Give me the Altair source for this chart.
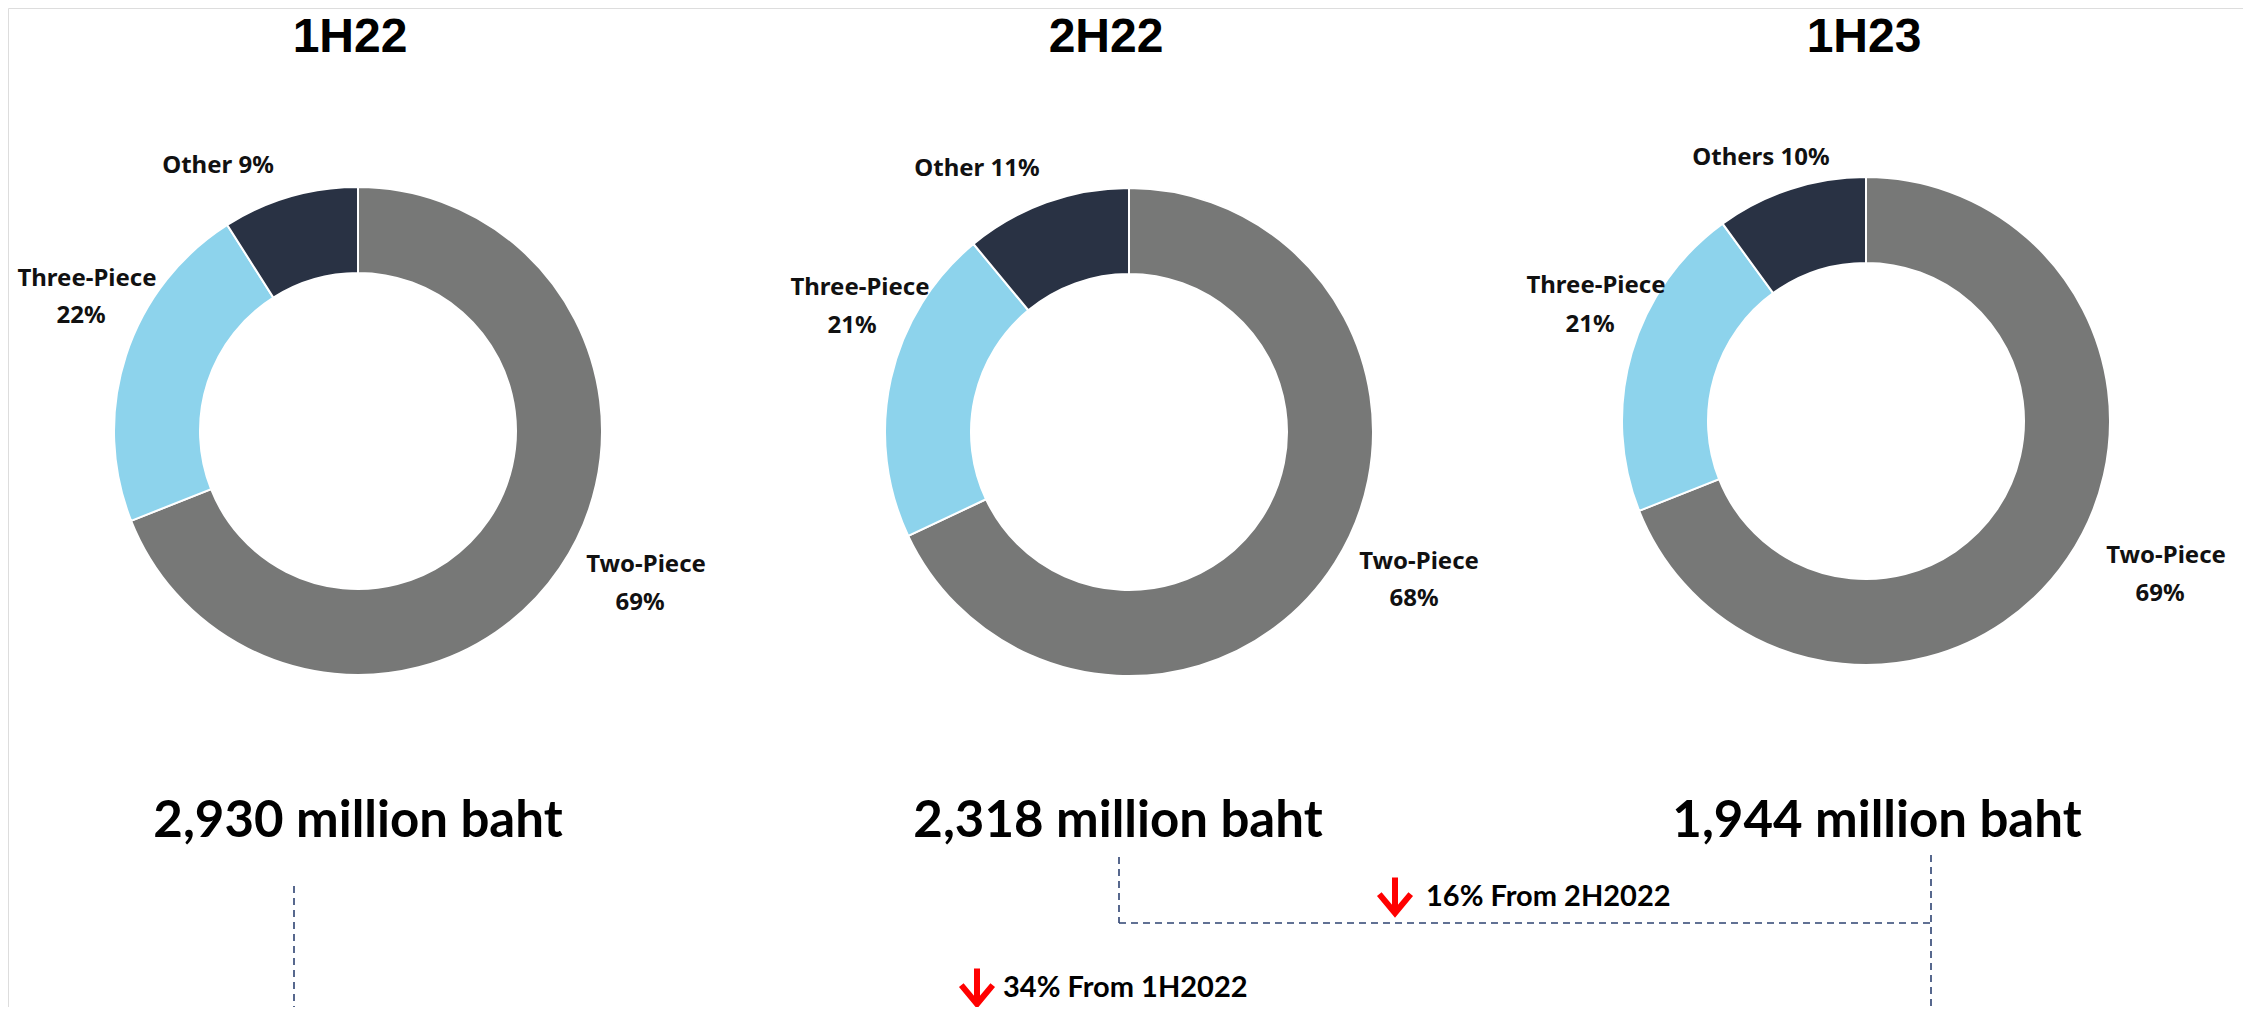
import altair as alt
import pandas as pd

# ---------------- data ----------------
periods = ["1H22", "2H22", "1H23"]
segments = ["Two-Piece", "Three-Piece", "Other"]
share_1h22 = [69, 22, 9]
share_2h22 = [68, 21, 11]
share_1h23 = [69, 21, 10]
other_names = ["Other", "Other", "Others"]
totals = ["2,930", "2,318", "1,944"]
change_texts = ["16% From 2H2022", "34% From 1H2022"]

# ---------------- layout (page px, minus 8px margin) ----------------
OFF = 8
centers = [(358, 431), (1129, 432), (1866, 421)]
R_OUT, R_IN = 244, 158
title_pos = [(350, 52), (1106, 52), (1864, 52)]
total_pos = [(358, 837), (1118, 837), (1877, 837)]
# per donut: [Two-Piece name, Two-Piece pct, Three-Piece name, Three-Piece pct, Other]
label_pos = [
    [(646, 572), (640, 610), (87, 286), (81, 323), (218, 173)],
    [(1419, 569), (1414, 606), (860, 295), (852, 333), (977, 176)],
    [(2166, 563), (2160, 601), (1596, 293), (1590, 332), (1761, 165)],
]
change_pos = [(1426, 906), (1003, 997)]
arrow_pos = [(1395, 896), (977, 987)]
dash_lines = [
    (294, 886, 294, 1015),
    (1119, 857, 1119, 923),
    (1119, 923, 1931, 923),
    (1931, 855, 1931, 1015),
]

colors = ["#777877", "#8DD3EC", "#293244"]
W, H = 2235, 999

shares = [share_1h22, share_2h22, share_1h23]

# ---------------- tables ----------------
arc_rows = []
for p, sh in zip(periods, shares):
    for i, (s, v) in enumerate(zip(segments, sh)):
        arc_rows.append({"period": p, "segment": s, "value": v, "order": i})
arc_df = pd.DataFrame(arc_rows)

lab_rows = []
for k, (p, sh) in enumerate(zip(periods, shares)):
    pos = label_pos[k]
    texts = [segments[0], f"{sh[0]}%", segments[1], f"{sh[1]}%", f"{other_names[k]} {sh[2]}%"]
    for t, (x, y) in zip(texts, pos):
        lab_rows.append({"x": x - OFF, "y": y - OFF, "text": t})
lab_df = pd.DataFrame(lab_rows)

title_df = pd.DataFrame({"x": [x - OFF for x, _ in title_pos],
                         "y": [y - OFF for _, y in title_pos],
                         "text": periods})
total_df = pd.DataFrame({"x": [x - OFF for x, _ in total_pos],
                         "y": [y - OFF for _, y in total_pos],
                         "text": [f"{t} million baht" for t in totals]})
change_df = pd.DataFrame({"x": [x - OFF for x, _ in change_pos],
                          "y": [y - OFF for _, y in change_pos],
                          "text": change_texts})
arrow_df = pd.DataFrame({"x": [x - OFF for x, _ in arrow_pos],
                         "y": [y - OFF for _, y in arrow_pos]})
dash_df = pd.DataFrame([{"x": a - OFF, "y": b - OFF, "x2": c - OFF, "y2": d - OFF}
                        for a, b, c, d in dash_lines])

X = lambda f: alt.X(f, scale=None, axis=None)
Y = lambda f: alt.Y(f, scale=None, axis=None)

layers = []
for k, p in enumerate(periods):
    cx, cy = centers[k]
    layers.append(
        alt.Chart(arc_df).transform_filter(alt.datum.period == p)
        .mark_arc(innerRadius=R_IN, outerRadius=R_OUT, stroke="white", strokeWidth=2)
        .encode(
            theta=alt.Theta("value:Q", stack=True),
            color=alt.Color("segment:N", scale=alt.Scale(domain=segments, range=colors), legend=None),
            order=alt.Order("order:Q"),
            x=alt.value(cx - OFF),
            y=alt.value(cy - OFF),
        )
    )

labels = alt.Chart(lab_df).mark_text(
    font="Noto Sans", fontWeight="bold", fontSize=24, color="#111111",
    align="center", baseline="alphabetic"
).encode(x=X("x:Q"), y=Y("y:Q"), text="text:N")

titles = alt.Chart(title_df).mark_text(
    font="Liberation Sans", fontWeight="bold", fontSize=48, color="#000000",
    align="center", baseline="alphabetic"
).encode(x=X("x:Q"), y=Y("y:Q"), text="text:N")

totals_t = alt.Chart(total_df).mark_text(
    font="Lato", fontWeight="bold", fontSize=51, color="#000000",
    align="center", baseline="alphabetic"
).encode(x=X("x:Q"), y=Y("y:Q"), text="text:N")

changes_t = alt.Chart(change_df).mark_text(
    font="Lato", fontWeight="bold", fontSize=29, color="#000000",
    align="left", baseline="alphabetic"
).encode(x=X("x:Q"), y=Y("y:Q"), text="text:N")

arrows = alt.Chart(arrow_df).mark_point(
    shape="M0,-1L0,0.85M-0.85,-0.1L0,0.92L0.85,-0.1",
    filled=False, stroke="#FF0000", strokeWidth=6, size=1369, opacity=1,
    strokeCap="butt", strokeJoin="miter"
).encode(x=X("x:Q"), y=Y("y:Q"))

dashes = alt.Chart(dash_df).mark_rule(
    color="#2E4372", strokeWidth=1.6, strokeDash=[7, 5]
).encode(x=X("x:Q"), y=Y("y:Q"), x2="x2:Q", y2="y2:Q")

chart = alt.layer(*layers, dashes, labels, titles, totals_t, changes_t, arrows).properties(
    width=W, height=H, padding=0, autosize=alt.AutoSizeParams(type="none")
).configure_view(stroke=None).configure(background="white")

chart.save("out.html", embed_options={"renderer": "svg", "actions": False})
